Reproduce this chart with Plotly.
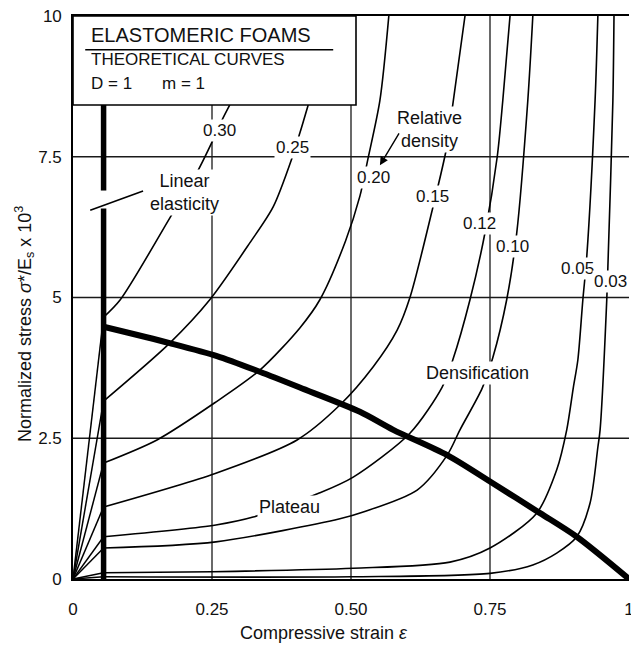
import plotly.graph_objects as go

# ---- data (strain, normalized stress x 1e3) ----
densities = ["0.30", "0.25", "0.20", "0.15", "0.12", "0.10", "0.05", "0.03"]

strain_030 = [0, 0.055, 0.085, 0.174, 0.225, 0.25, 0.268, 0.282]
stress_030 = [0, 4.65, 4.96, 6.41, 7.26, 7.76, 8.15, 8.42]

strain_025 = [0, 0.055, 0.174, 0.246, 0.318, 0.36, 0.394, 0.408, 0.423]
stress_025 = [0, 3.16, 4.19, 4.96, 5.97, 6.61, 7.48, 7.92, 8.42]

strain_020 = [0, 0.055, 0.151, 0.255, 0.336, 0.408, 0.444, 0.49, 0.516, 0.53, 0.552, 0.568]
stress_020 = [0, 2.06, 2.47, 3.13, 3.71, 4.46, 4.96, 6.0, 6.8, 7.44, 8.5, 10]

strain_015 = [0, 0.055, 0.257, 0.403, 0.48, 0.54, 0.583, 0.606, 0.647, 0.672, 0.683, 0.705]
stress_015 = [0, 1.28, 1.88, 2.47, 3.09, 3.77, 4.42, 5.0, 6.59, 7.66, 8.42, 10]

strain_012 = [0, 0.055, 0.257, 0.324, 0.444, 0.504, 0.606, 0.664, 0.683, 0.714, 0.741, 0.763, 0.773, 0.786]
stress_012 = [0, 0.75, 0.96, 1.10, 1.53, 1.81, 2.59, 3.41, 3.89, 4.96, 6.15, 7.5, 8.5, 10]

strain_010 = [0, 0.055, 0.257, 0.48, 0.522, 0.619, 0.673, 0.696, 0.736, 0.755, 0.78, 0.798, 0.818, 0.827]
stress_010 = [0, 0.55, 0.66, 1.07, 1.19, 1.58, 2.2, 2.65, 3.39, 3.93, 4.96, 6.14, 8.5, 10]

strain_005 = [0, 0.055, 0.25, 0.504, 0.678, 0.75, 0.834, 0.87, 0.888, 0.90, 0.908, 0.917, 0.924, 0.939, 0.944]
stress_005 = [0, 0.11, 0.13, 0.19, 0.30, 0.55, 1.17, 1.94, 2.65, 3.41, 3.89, 4.96, 5.72, 8.5, 10]

strain_003 = [0, 0.055, 0.5, 0.75, 0.827, 0.87, 0.906, 0.93, 0.944, 0.948, 0.96, 0.962, 0.971, 0.973]
stress_003 = [0, 0.04, 0.04, 0.10, 0.25, 0.46, 0.75, 1.35, 2.34, 2.65, 4.96, 5.54, 8.5, 10]

# plateau / densification boundary (thick curve)
boundary_strain = [0.055, 0.174, 0.259, 0.336, 0.408, 0.516, 0.576, 0.673, 0.755, 0.84, 0.906, 1.0]
boundary_stress = [4.48, 4.19, 3.96, 3.68, 3.40, 2.97, 2.65, 2.20, 1.70, 1.17, 0.75, 0.0]

# linear elasticity limit (thick vertical line), with a break for the pointer
yield_strain = [0.055, 0.055, None, 0.055, 0.055]
yield_stress = [0, 6.58, None, 6.9, 8.42]

x_ticks = [0, 0.25, 0.5, 0.75, 1]
x_tick_text = ["0", "0.25", "0.50", "0.75", "1"]
y_ticks = [0, 2.5, 5, 7.5, 10]
y_tick_text = ["0", "2.5", "5", "7.5", "10"]

curves = [
    (strain_030, stress_030), (strain_025, stress_025), (strain_020, stress_020),
    (strain_015, stress_015), (strain_012, stress_012), (strain_010, stress_010),
    (strain_005, stress_005), (strain_003, stress_003),
]

FONT = "Liberation Sans, Arial, sans-serif"
fig = go.Figure()

for xs, ys in curves:
    # linear elastic part
    fig.add_trace(go.Scatter(x=xs[:2], y=ys[:2], mode="lines",
                             line=dict(color="black", width=1.5), hoverinfo="skip"))
    # plateau + densification
    fig.add_trace(go.Scatter(x=xs[1:], y=ys[1:], mode="lines",
                             line=dict(color="black", width=1.6, shape="spline", smoothing=0.8),
                             hoverinfo="skip"))

fig.add_trace(go.Scatter(x=boundary_strain, y=boundary_stress, mode="lines",
                         line=dict(color="black", width=6, shape="spline", smoothing=0.8),
                         hoverinfo="skip"))
fig.add_trace(go.Scatter(x=yield_strain, y=yield_stress, mode="lines",
                         line=dict(color="black", width=5.5), hoverinfo="skip"))
# pointer for "Linear elasticity"
fig.add_trace(go.Scatter(x=[0.031, 0.126], y=[6.55, 6.89], mode="lines",
                         line=dict(color="black", width=1.6), hoverinfo="skip"))

shapes = []
for xv in x_ticks[1:-1]:
    shapes.append(dict(type="line", xref="x", yref="y", x0=xv, x1=xv, y0=0, y1=10,
                       line=dict(color="#1a1a1a", width=1.3), layer="below"))
for yv in y_ticks[1:-1]:
    shapes.append(dict(type="line", xref="x", yref="y", x0=0, x1=1, y0=yv, y1=yv,
                       line=dict(color="#1a1a1a", width=1.3), layer="below"))
# title box
shapes.append(dict(type="rect", xref="x", yref="y", x0=0, x1=0.509, y0=8.42, y1=10,
                   line=dict(color="black", width=1.6), fillcolor="white", layer="above"))
# underline of box title
shapes.append(dict(type="line", xref="x", yref="y", x0=0.022, x1=0.468, y0=9.4, y1=9.4,
                   line=dict(color="black", width=1.4), layer="above"))

ann = []
def txt(x, y, s, size=18, bg="white", xanchor="center"):
    ann.append(dict(x=x, y=y, xref="x", yref="y", text=s, showarrow=False,
                    font=dict(family=FONT, size=size, color="#111"),
                    bgcolor=bg, borderpad=1, xanchor=xanchor, yanchor="middle"))

txt(0.029, 9.66, "ELASTOMERIC FOAMS", size=20, bg="rgba(0,0,0,0)", xanchor="left")
txt(0.029, 9.22, "THEORETICAL CURVES", size=17, bg="rgba(0,0,0,0)", xanchor="left")
txt(0.029, 8.81, "D = 1", size=17, bg="rgba(0,0,0,0)", xanchor="left")
txt(0.156, 8.81, "m = 1", size=17, bg="rgba(0,0,0,0)", xanchor="left")

label_pos = [(0.264, 7.97), (0.394, 7.67), (0.541, 7.14), (0.646, 6.79),
             (0.732, 6.32), (0.791, 5.90), (0.908, 5.52), (0.966, 5.28)]
for d, (lx, ly) in zip(densities, label_pos):
    txt(lx, ly, d, size=17)

txt(0.20, 6.87, "Linear<br>elasticity", size=18)
txt(0.642, 7.99, "Relative<br>density", size=18)
txt(0.727, 3.66, "Densification", size=18)
txt(0.39, 1.28, "Plateau", size=18)

ann.append(dict(x=0.552, y=7.35, ax=0.588, ay=7.94, xref="x", yref="y", axref="x", ayref="y",
                text="", showarrow=True, arrowhead=2, arrowsize=1.2, arrowwidth=1.4,
                arrowcolor="black"))

# axis titles as annotations (paper coords relative to plot area)
ann.append(dict(x=0.451, y=-0.096, xref="paper", yref="paper",
                text="Compressive strain <i>ε</i>", showarrow=False,
                font=dict(family=FONT, size=18, color="#111"),
                xanchor="center", yanchor="middle"))
ann.append(dict(x=-0.0863, y=0.453, xref="paper", yref="paper", textangle=-90,
                text="Normalized stress <i>σ</i>*/E<sub>s</sub> x 10<sup>3</sup>", showarrow=False,
                font=dict(family=FONT, size=18, color="#111"),
                xanchor="center", yanchor="middle"))

fig.update_layout(
    width=631, height=647,
    margin=dict(l=73, r=2, t=16, b=68, autoexpand=False),
    paper_bgcolor="white", plot_bgcolor="white",
    showlegend=False,
    font=dict(family=FONT, color="#111"),
    shapes=shapes,
    annotations=ann,
)
fig.update_xaxes(range=[0, 1], tickvals=x_ticks, ticktext=x_tick_text, automargin=False,
                 showgrid=False, zeroline=False, showline=True, linecolor="black",
                 linewidth=1.6, mirror=True, ticks="", ticklabelstandoff=14,
                 ticklabeloverflow="allow",
                 tickfont=dict(size=17, family=FONT, color="#111"))
fig.update_yaxes(range=[0, 10], tickvals=y_ticks, ticktext=y_tick_text, automargin=False,
                 showgrid=False, zeroline=False, showline=True, linecolor="black",
                 linewidth=1.6, ticks="", ticklabelstandoff=6,
                 ticklabeloverflow="allow",
                 tickfont=dict(size=17, family=FONT, color="#111"))

fig.write_html("out.html", config={"displayModeBar": False},
               post_script="document.body.style.margin='0';document.body.style.overflow='hidden';")
